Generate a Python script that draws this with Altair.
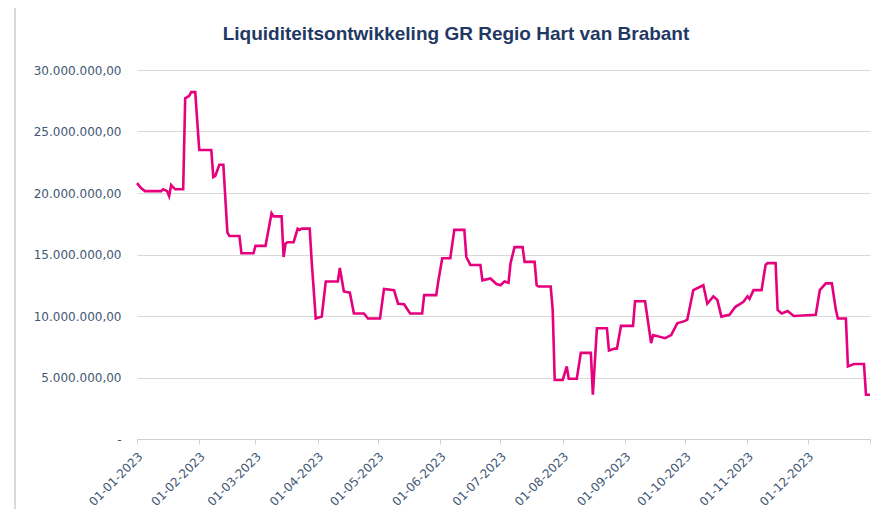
import altair as alt
import pandas as pd

# day offsets from 01-01-2023 and balance in euros (millions)
day_offsets = [0, 2, 4, 12, 13, 15, 16, 17, 19, 23, 24, 26, 27, 29, 31, 37, 38, 39, 41, 43,
               45, 46, 51, 52, 58, 59, 64, 67, 68, 72, 73, 74, 75, 78, 80, 81, 82, 86, 87, 89,
               92, 94, 100, 101, 103, 106, 108, 113, 115, 121, 123, 128, 130, 133, 136, 142, 143, 149, 150, 152,
               156, 158, 163, 164, 166, 171, 172, 176, 179, 181, 183, 185, 186, 188, 192, 193, 198, 199, 200, 206,
               207, 208, 212, 214, 215, 219, 221, 226, 227, 229, 234, 235, 238, 239, 241, 247, 248, 253, 256, 257,
               263, 266, 269, 273, 274, 277, 282, 284, 287, 289, 291, 295, 298, 302, 304, 305, 307, 311, 313, 314,
               318, 319, 321, 324, 327, 338, 340, 343, 346, 348, 349, 353, 354, 357, 362, 363, 365]
balance_m = [20.8, 20.4, 20.15, 20.15, 20.3, 20.15, 19.75, 20.65, 20.3, 20.3, 27.7, 27.9, 28.2, 28.2, 23.5, 23.5, 21.3, 21.4, 22.3, 22.3,
             16.8, 16.5, 16.5, 15.1, 15.1, 15.7, 15.7, 18.35, 18.1, 18.1, 14.8, 15.9, 16.0, 16.0, 17.1, 17.0, 17.1, 17.1, 14.4, 9.8,
             9.95, 12.8, 12.8, 13.9, 12.0, 11.9, 10.2, 10.2, 9.8, 9.8, 12.2, 12.1, 11.0, 10.95, 10.2, 10.2, 11.7, 11.7, 12.8, 14.7,
             14.7, 17.0, 17.0, 14.8, 14.15, 14.15, 12.9, 13.05, 12.6, 12.5, 12.8, 12.7, 14.3, 15.6, 15.6, 14.4, 14.4, 12.5, 12.4, 12.4,
             10.5, 4.8, 4.8, 5.9, 4.9, 4.9, 7.0, 7.0, 3.6, 9.0, 9.0, 7.2, 7.35, 7.35, 9.2, 9.2, 11.2, 11.2, 7.8, 8.45,
             8.2, 8.45, 9.4, 9.6, 9.7, 12.1, 12.5, 11.0, 11.6, 11.3, 9.95, 10.1, 10.75, 11.15, 11.6, 11.4, 12.1, 12.1, 14.15, 14.3,
             14.3, 10.5, 10.2, 10.4, 10.0, 10.1, 12.1, 12.65, 12.65, 10.5, 9.8, 9.8, 5.9, 6.1, 6.1, 3.6, 3.6]

y_ticks = [0, 5e6, 10e6, 15e6, 20e6, 25e6, 30e6]
title_text = "Liquiditeitsontwikkeling GR Regio Hart van Brabant"

start = pd.Timestamp("2023-01-01")
df = pd.DataFrame({
    "datum": [(start + pd.Timedelta(days=d)).strftime("%Y-%m-%d") for d in day_offsets],
    "saldo": [v * 1e6 for v in balance_m],
})

x_tick_values = [alt.DateTime(year=2023, month=m, date=1, utc=True) for m in range(1, 13)] + \
                [alt.DateTime(year=2024, month=1, date=1, utc=True)]

label_color = "#3F5775"

line = alt.Chart(df).mark_line(color="#E6007E", strokeWidth=2.6, interpolate="linear").encode(
    x=alt.X("datum:T",
            scale=alt.Scale(type="utc",
                            domain=[alt.DateTime(year=2023, month=1, date=1, utc=True),
                                    alt.DateTime(year=2024, month=1, date=1, utc=True)]),
            axis=alt.Axis(values=x_tick_values, format="%d-%m-%Y", labelAngle=315,
                          labelAlign="right", labelBaseline="middle",
                          labelExpr="year(datum.value) == 2024 ? '' : datum.label",
                          grid=False, domainColor="#d0d0d0", tickColor="#d0d0d0", tickSize=5,
                          labelFont="DejaVu Sans", labelFontSize=12, labelColor=label_color,
                          labelPadding=10, labelOffset=3, title=None, labelOverlap=False)),
    y=alt.Y("saldo:Q",
            scale=alt.Scale(domain=[0, 30e6], nice=False),
            axis=alt.Axis(values=y_ticks, domain=False, ticks=False, gridColor="#d9d9d9",
                          labelExpr="datum.value == 0 ? '-' : replace(format(datum.value, ','), regexp(',', 'g'), '.') + ',00'",
                          labelFont="DejaVu Sans", labelFontSize=12, labelColor=label_color,
                          labelPadding=16, title=None)),
)

frame = alt.Chart(df).mark_rule(color="#d9d9d9", strokeWidth=1).encode(
    x=alt.value(-122), y=alt.value(-62), y2=alt.value(460)
)

title = alt.Chart(pd.DataFrame({"t": [title_text]})).mark_text(
    font="Liberation Sans", fontSize=19, fontWeight="bold", color="#1F3864",
    align="center", baseline="middle"
).encode(text="t:N", x=alt.value(319), y=alt.value(-36))

chart = alt.layer(frame, line, title).properties(
    width=733, height=369,
    padding={"left": 129, "top": 62, "right": 5, "bottom": 70},
    autosize="none",
).configure_view(stroke=None)

chart.save("out.html", embed_options={"renderer": "svg", "actions": False})
